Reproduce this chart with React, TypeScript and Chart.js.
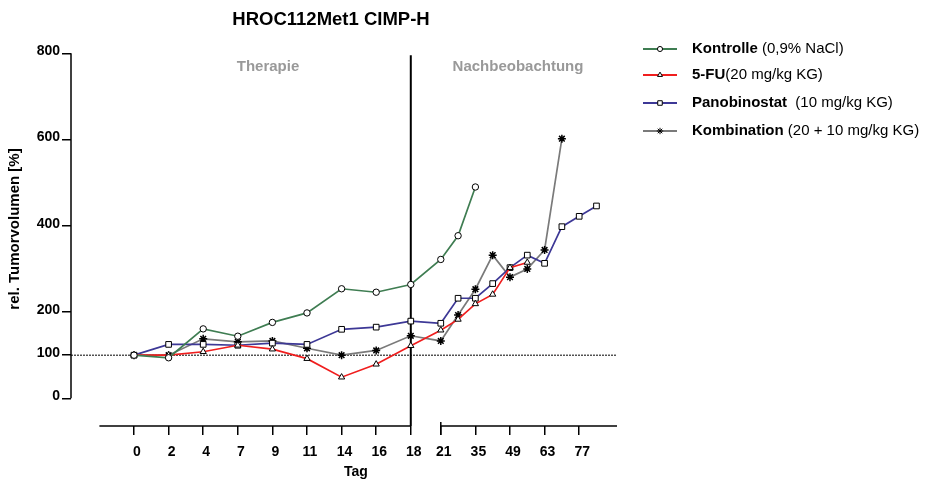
import React, { useEffect, useRef } from 'react';
import { Chart, registerables } from 'chart.js';
import { drawPoint } from 'chart.js/helpers';

Chart.register(...registerables);

// ---------- data ----------
const therapyDays = [0, 2, 4, 7, 9, 11, 14, 16, 18];
const followUpTickDays = [21, 35, 49, 63, 77];
const xTickLabels = ['0', '2', '4', '7', '9', '11', '14', '16', '18', '21', '35', '49', '63', '77'];
const yTickValues = [0, 100, 200, 400, 600, 800];

const kontrolleDays = [0, 2, 4, 7, 9, 11, 14, 16, 18, 21, 28, 35];
const kontrolleValues = [100, 94, 161, 144, 176, 198, 254, 246, 264, 322, 377, 490];

const fuDays = [0, 2, 4, 7, 9, 11, 14, 16, 18, 21, 28, 35, 42, 49, 56];
const fuValues = [100, 100, 108, 123, 114, 92, 49, 79, 122, 158, 183, 219, 241, 303, 315];

const panoDays = [0, 2, 4, 7, 9, 11, 14, 16, 18, 21, 28, 35, 42, 49, 56, 63, 70, 77, 84];
const panoValues = [100, 125, 125, 123, 128, 125, 160, 165, 179, 174, 232, 232, 266, 303, 332, 313, 398, 422, 446];

const kombiDays = [0, 2, 4, 7, 9, 11, 14, 16, 18, 21, 28, 35, 42, 49, 56, 63, 70];
const kombiValues = [100, 100, 138, 131, 133, 116, 100, 111, 145, 133, 193, 253, 332, 281, 300, 344, 602];

const seriesNames = ['Kontrolle', '5-FU', 'Panobinostat', 'Kombination'];
const seriesNotes = [' (0,9% NaCl)', '(20 mg/kg KG)', '  (10 mg/kg KG)', ' (20 + 10 mg/kg KG)'];

const chartTitle = 'HROC112Met1 CIMP-H';
const yTitle = 'rel. Tumorvolumen [%]';
const xTitle = 'Tag';
const phaseLabels = ['Therapie', 'Nachbeobachtung'];

// ---------- axis break mapping (therapy: one unit per visit; follow-up: one unit per 14 days) ----------
const GAP_UNITS = 0.867;
const lastTherapyPos = therapyDays.length - 1;
const breakPos = lastTherapyPos + GAP_UNITS;
function dayToPos(d: number): number {
  const i = therapyDays.indexOf(d);
  if (i >= 0) return i;
  return breakPos + (d - followUpTickDays[0]) / 14;
}
const xTickPositions = [...therapyDays.map(dayToPos), ...followUpTickDays.map(dayToPos)];

const FONT = "'Liberation Sans', Arial, sans-serif";

const colors = ['#3f7d52', '#f01e1e', '#3d3896', '#7a7a7a'];
const pointStyles = ['circle', 'triangle', 'rect', 'star'];
const pointRadii = [3.2, 3.6, 4, 4];

function toPoints(days: number[], vals: number[]) {
  return days.map((d, i) => ({ x: dayToPos(d), y: vals[i] }));
}

const decorPlugin = {
  id: 'decor',
  beforeDatasetsDraw(chart: any) {
    const { ctx, chartArea, scales } = chart;
    const x = scales.x;
    const y = scales.y;
    const line = (x1: number, y1: number, x2: number, y2: number) => {
      ctx.beginPath();
      ctx.moveTo(x1, y1);
      ctx.lineTo(x2, y2);
      ctx.stroke();
    };
    ctx.save();
    ctx.strokeStyle = '#000';
    // dotted reference line at 100
    ctx.lineWidth = 1;
    ctx.setLineDash([2, 1]);
    const y100 = y.getPixelForValue(100);
    line(chartArea.left, y100, chartArea.right, y100);
    ctx.setLineDash([]);
    // y axis line
    ctx.lineWidth = 1.5;
    line(chartArea.left, y.getPixelForValue(0), chartArea.left, y.getPixelForValue(800));
    // x axis segments
    const yb = chartArea.bottom;
    line(x.getPixelForValue(-1), yb, x.getPixelForValue(lastTherapyPos), yb);
    const xb = x.getPixelForValue(breakPos);
    line(xb, yb, chartArea.right, yb);
    line(xb, yb - 4, xb, yb + 9);
    // phase separator
    ctx.lineWidth = 2;
    const xs = x.getPixelForValue(lastTherapyPos);
    line(xs, chartArea.top + 2, xs, yb);
    ctx.restore();
  },
  afterDraw(chart: any) {
    const { ctx } = chart;
    ctx.save();
    ctx.fillStyle = '#000';
    ctx.textBaseline = 'middle';
    // title
    ctx.textAlign = 'center';
    ctx.font = `bold 18.5px ${FONT}`;
    ctx.fillText(chartTitle, 331, 20);
    // phases
    ctx.fillStyle = '#999999';
    ctx.font = `bold 15px ${FONT}`;
    ctx.fillText(phaseLabels[0], 268, 67);
    ctx.fillText(phaseLabels[1], 518, 67);
    // x title
    ctx.fillStyle = '#000';
    ctx.font = `bold 14px ${FONT}`;
    ctx.fillText(xTitle, 356, 472);
    // y title
    ctx.save();
    ctx.translate(15, 229);
    ctx.rotate(-Math.PI / 2);
    ctx.font = `bold 15px ${FONT}`;
    ctx.fillText(yTitle, 0, 0);
    ctx.restore();
    // legend
    const rowY = [49, 75, 103, 131];
    seriesNames.forEach((name, i) => {
      const yy = rowY[i];
      ctx.strokeStyle = colors[i];
      ctx.lineWidth = 2;
      ctx.beginPath();
      ctx.moveTo(643, yy);
      ctx.lineTo(677, yy);
      ctx.stroke();
      ctx.strokeStyle = '#000';
      ctx.fillStyle = '#fff';
      ctx.lineWidth = 1;
      drawPoint(ctx, { pointStyle: pointStyles[i], radius: pointRadii[i] * 0.8, rotation: 0, borderWidth: 1 }, 660, yy);
      ctx.fillStyle = '#000';
      ctx.textAlign = 'left';
      ctx.font = `bold 15px ${FONT}`;
      ctx.fillText(name, 692, yy);
      const w = ctx.measureText(name).width;
      ctx.font = `15px ${FONT}`;
      ctx.fillText(seriesNotes[i], 692 + w, yy);
    });
    ctx.restore();
  },
};

export default function App() {
  const ref = useRef<HTMLCanvasElement | null>(null);
  useEffect(() => {
    if (!ref.current) return;
    const series = [
      toPoints(kontrolleDays, kontrolleValues),
      toPoints(fuDays, fuValues),
      toPoints(panoDays, panoValues),
      toPoints(kombiDays, kombiValues),
    ];
    const chart = new Chart(ref.current, {
      type: 'line',
      data: {
        datasets: series.map((data, i) => ({
          label: seriesNames[i],
          data,
          borderColor: colors[i],
          borderWidth: 1.7,
          pointStyle: pointStyles[i] as any,
          pointRadius: pointRadii[i],
          pointBorderColor: '#000',
          pointBackgroundColor: '#fff',
          pointBorderWidth: i === 3 ? 1.5 : 1,
          tension: 0,
          fill: false,
        })),
      },
      options: {
        animation: false,
        responsive: true,
        maintainAspectRatio: false,
        layout: { padding: { top: 53.3, right: 308, left: 0, bottom: 0 } },
        plugins: { legend: { display: false }, tooltip: { enabled: false }, title: { display: false } },
        scales: {
          x: {
            type: 'linear',
            min: -1.821,
            max: 13.96,
            afterFit: (s: any) => { s.height = 57; },
            afterBuildTicks: (s: any) => { s.ticks = xTickPositions.map((v) => ({ value: v })); },
            ticks: {
              callback: (_v: any, i: number) => xTickLabels[i],
              font: { family: FONT, size: 14, weight: 'bold' },
              color: '#000',
              padding: 9,
              labelOffset: 3,
              maxRotation: 0,
              autoSkip: false,
            },
            grid: { display: true, drawOnChartArea: false, drawTicks: true, tickLength: 9, color: '#000', lineWidth: 1.5 },
            border: { display: false },
          },
          y: {
            type: 'linear',
            min: -64.2,
            max: 800,
            afterFit: (s: any) => { s.width = 71; },
            afterBuildTicks: (s: any) => { s.ticks = yTickValues.map((v) => ({ value: v })); },
            ticks: {
              font: { family: FONT, size: 14, weight: 'bold' },
              color: '#000',
              padding: 2,
              labelOffset: -2,
              autoSkip: false,
            },
            grid: { display: true, drawOnChartArea: false, drawTicks: true, tickLength: 9, color: '#000', lineWidth: 1.5 },
            border: { display: false },
          },
        },
      },
      plugins: [decorPlugin],
    });
    return () => chart.destroy();
  }, []);
  return (
    <div style={{ position: 'fixed', left: 0, top: 0, width: 925, height: 483 }}>
      <canvas ref={ref} />
    </div>
  );
}
